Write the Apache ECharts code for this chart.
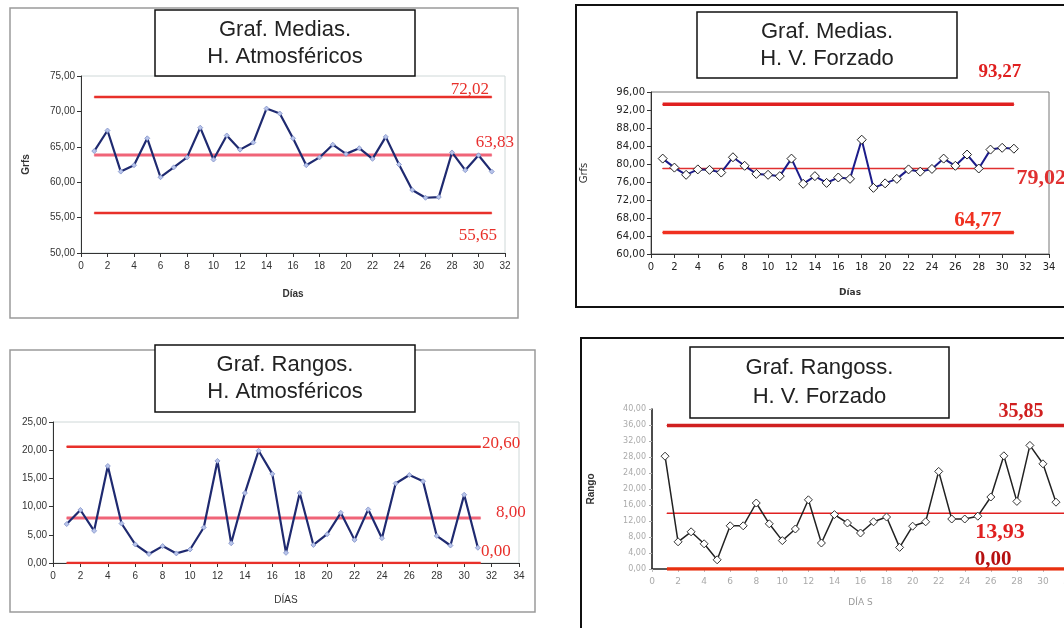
<!DOCTYPE html>
<html>
<head>
<meta charset="utf-8">
<script src="https://cdn.jsdelivr.net/npm/echarts@6/dist/echarts.min.js"></script>
<style>
  html, body { margin: 0; padding: 0; background: #ffffff; }
  #chart { width: 1064px; height: 628px; }
</style>
</head>
<body>
<div id="chart"></div>
<script>
// Days of the month (x values shared by all four control charts)
const dias = [1,2,3,4,5,6,7,8,9,10,11,12,13,14,15,16,17,18,19,20,21,22,23,24,25,26,27,28,29,30,31];

// Daily means and ranges, atmospheric ovens
const mediasAtm = [64.4, 67.3, 61.5, 62.4, 66.2, 60.7, 62.1, 63.5, 67.7, 63.2, 66.6, 64.6, 65.6, 70.4, 69.7, 66.2,
                   62.4, 63.5, 65.3, 64.0, 64.8, 63.3, 66.4, 62.5, 58.9, 57.8, 57.9, 64.2, 61.7, 63.8, 61.5];
const rangosAtm = [6.9, 9.4, 5.7, 17.2, 7.0, 3.3, 1.6, 3.0, 1.7, 2.4, 6.3, 18.1, 3.5, 12.4, 19.9, 15.8,
                   1.8, 12.4, 3.2, 5.1, 8.9, 4.1, 9.5, 4.4, 14.1, 15.6, 14.5, 4.8, 3.1, 12.1, 2.7];

// Daily means and ranges, forced-draft ovens
const mediasVF = [81.2, 79.2, 77.6, 78.8, 78.7, 78.1, 81.5, 79.6, 77.8, 77.6, 77.3, 81.2, 75.6, 77.3, 75.8, 77.0,
                  76.7, 85.4, 74.7, 75.7, 76.7, 78.8, 78.3, 78.9, 81.2, 79.6, 82.1, 79.0, 83.2, 83.6, 83.4];
const rangosVF = [28.2, 6.8, 9.3, 6.3, 2.3, 10.8, 10.8, 16.5, 11.3, 7.1, 10.0, 17.3, 6.5, 13.6, 11.5, 9.0,
                  11.8, 13.0, 5.4, 10.7, 11.8, 24.4, 12.5, 12.5, 13.2, 18.0, 28.3, 16.9, 30.9, 26.3, 16.7];

// Control limits: [upper, center, lower]
const limMediasAtm = [72.02, 63.83, 55.65];
const limRangosAtm = [20.60, 8.00, 0.00];
const limMediasVF = [93.27, 79.02, 64.77];
const limRangosVF = [35.85, 13.93, 0.00];

// Chart titles
const titulos = [
  'Graf. Medias.\nH. Atmosféricos',
  'Graf. Medias.\nH. V. Forzado',
  'Graf. Rangos.\nH. Atmosféricos',
  'Graf. Rangoss.\nH. V. Forzado'
];

const coma = v => v.toFixed(2).replace('.', ',');
const pares = vals => dias.map((d, i) => [d, vals[i]]);

const chart = echarts.init(document.getElementById('chart'), null, { renderer: 'canvas' });

// One horizontal control line with its value printed near the line end
function limite(idx, value, x0, x1, color, width, lab) {
  return {
    type: 'line', xAxisIndex: idx, yAxisIndex: idx, z: 2,
    symbol: 'circle', symbolSize: 1, showSymbol: true, silent: true, animation: false,
    lineStyle: { color: color, width: width },
    itemStyle: { color: color, borderWidth: 0 },
    data: [
      [x0, value],
      {
        value: [x1, value],
        label: {
          show: true, formatter: () => coma(value),
          position: lab.pos, distance: 5, offset: lab.off,
          fontFamily: 'Liberation Serif', fontSize: lab.size,
          fontWeight: lab.bold ? 'bold' : 'normal',
          color: lab.color || color
        }
      }
    ]
  };
}

function ejeX(idx, max, name, opts) {
  return Object.assign({
    type: 'value', gridIndex: idx, min: 0, max: max, interval: 2,
    name: name, nameLocation: 'middle',
    axisLine: { show: true, onZero: false, lineStyle: { color: '#333', width: 1 } },
    axisTick: { show: true, length: 4, lineStyle: { color: '#333' } },
    splitLine: { show: false },
    axisLabel: { fontFamily: 'Liberation Sans', fontSize: 10, color: '#333', margin: 8 }
  }, opts);
}

function ejeY(idx, min, max, interval, name, opts) {
  return Object.assign({
    type: 'value', gridIndex: idx, min: min, max: max, interval: interval,
    name: name, nameLocation: 'middle', nameRotate: 90,
    axisLine: { show: true, lineStyle: { color: '#333', width: 1 } },
    axisTick: { show: true, length: 4, lineStyle: { color: '#333' } },
    splitLine: { show: false },
    axisLabel: { fontFamily: 'Liberation Sans', fontSize: 10, color: '#333', formatter: coma, margin: 6 }
  }, opts);
}

// Frames and title boxes
function marco(x, y, w, h, color, lw) {
  return { type: 'rect', z: -10, silent: true, shape: { x: x, y: y, width: w, height: h },
           style: { fill: '#fff', stroke: color, lineWidth: lw } };
}
function cajaTitulo(x, y, w, h, text, lh, font) {
  return {
    type: 'group', z: 100, silent: true,
    children: [
      { type: 'rect', shape: { x: x, y: y, width: w, height: h },
        style: { fill: '#fff', stroke: '#111', lineWidth: 1.5 } },
      { type: 'text', x: x + w / 2, y: y + h / 2,
        style: { text: text, textAlign: 'center', textVerticalAlign: 'middle',
                 font: font, lineHeight: lh, fill: '#222' } }
    ]
  };
}

const nombreEje = { fontFamily: 'Liberation Sans', fontSize: 10, fontWeight: 'bold', color: '#333' };

const option = {
  backgroundColor: '#ffffff',
  animation: false,
  graphic: [
    marco(10, 8, 508, 310, '#9a9a9a', 1.5),
    marco(10, 350, 525, 262, '#9a9a9a', 1.5),
    marco(576, 5, 520, 302, '#111', 2),
    marco(581, 338, 520, 310, '#111', 2),
    cajaTitulo(155, 10, 260, 66, titulos[0], 27, '22px "Liberation Sans"'),
    cajaTitulo(697, 12, 260, 66, titulos[1], 27, '22px "Liberation Sans"'),
    cajaTitulo(155, 345, 260, 67, titulos[2], 27, '22px "Liberation Sans"'),
    cajaTitulo(690, 347, 259, 71, titulos[3], 29, '22px "Liberation Sans"')
  ],
  grid: [
    { left: 81, right: 559, top: 76, bottom: 375, outerBoundsMode: 'none', show: true, borderColor: '#cfd8d8', borderWidth: 1, backgroundColor: 'transparent' },
    { left: 651, right: 15, top: 92, bottom: 374, outerBoundsMode: 'none', show: true, borderColor: '#777', borderWidth: 1, backgroundColor: 'transparent' },
    { left: 53, right: 545, top: 422, bottom: 65, outerBoundsMode: 'none', show: true, borderColor: '#cfd8d8', borderWidth: 1, backgroundColor: 'transparent' },
    { left: 652, right: -5, top: 409, bottom: 59, outerBoundsMode: 'none', show: false }
  ],
  xAxis: [
    ejeX(0, 32, 'Días', { nameGap: 36, nameTextStyle: nombreEje }),
    ejeX(1, 34, 'Días', { nameGap: 34, nameTextStyle: Object.assign({}, nombreEje, { fontFamily: 'DejaVu Sans', fontSize: 9 }),
      axisLabel: { fontFamily: 'DejaVu Sans', fontSize: 10, color: '#222', margin: 8 } }),
    ejeX(2, 34, 'DÍAS', { nameGap: 32, nameTextStyle: Object.assign({}, nombreEje, { fontWeight: 'normal' }) }),
    ejeX(3, 32, 'DÍA S', { nameGap: 29,
      nameTextStyle: { fontFamily: 'DejaVu Sans', fontSize: 9, color: '#999' },
      axisLine: { show: true, onZero: false, lineStyle: { color: '#222', width: 1.5 } },
      axisTick: { show: true, length: 3, lineStyle: { color: '#bbb' } },
      axisLabel: { fontFamily: 'DejaVu Sans', fontSize: 9, color: '#aaa', margin: 8 } })
  ],
  yAxis: [
    ejeY(0, 50, 75, 5, 'Grfs', { nameGap: 50, nameTextStyle: nombreEje }),
    ejeY(1, 60, 96, 4, 'Grfs', { nameGap: 62, nameTextStyle: Object.assign({}, nombreEje, { fontFamily: 'DejaVu Sans', fontWeight: 'normal' }),
      axisLabel: { fontFamily: 'DejaVu Sans', fontSize: 10, color: '#222', formatter: coma, margin: 6 } }),
    ejeY(2, 0, 25, 5, '', {}),
    ejeY(3, 0, 40, 4, 'Rango', { nameGap: 56, nameTextStyle: nombreEje,
      axisLine: { show: true, lineStyle: { color: '#111', width: 1.5 } },
      axisTick: { show: true, length: 3, lineStyle: { color: '#aaa' } },
      axisLabel: { fontFamily: 'DejaVu Sans', fontSize: 8, color: '#aaa', formatter: coma, margin: 6 } })
  ],
  series: [
    // Atmospheric means
    limite(0, limMediasAtm[0], 1, 31, '#e8302a', 2.5, { pos: 'top', off: [-22, 6], size: 17 }),
    limite(0, limMediasAtm[1], 1, 31, '#f06478', 3, { pos: 'top', off: [3, 1], size: 17, color: '#e83030' }),
    limite(0, limMediasAtm[2], 1, 31, '#e8302a', 2.5, { pos: 'bottom', off: [-14, 9], size: 17 }),
    {
      type: 'line', xAxisIndex: 0, yAxisIndex: 0, z: 5, data: pares(mediasAtm),
      symbol: 'diamond', symbolSize: 5, showSymbol: true,
      lineStyle: { color: '#1f2a70', width: 2.2 },
      itemStyle: { color: '#b8c4ea', borderColor: '#8090c8', borderWidth: 0.8 }
    },
    // Forced-draft means
    limite(1, limMediasVF[0], 1, 31, '#e02020', 3.5, { pos: 'top', off: [-14, -17], size: 19, bold: true }),
    limite(1, limMediasVF[1], 1, 31, '#e03030', 1.5, { pos: 'right', off: [-3, 10], size: 22, bold: true }),
    limite(1, limMediasVF[2], 1, 31, '#f03020', 3.5, { pos: 'top', off: [-36, 4], size: 21, bold: true }),
    {
      type: 'line', xAxisIndex: 1, yAxisIndex: 1, z: 5, data: pares(mediasVF),
      symbol: 'diamond', symbolSize: 9, showSymbol: true,
      lineStyle: { color: '#1c1c8a', width: 2 },
      itemStyle: { color: '#ffffff', borderColor: '#222', borderWidth: 1 }
    },
    // Atmospheric ranges
    limite(2, limRangosAtm[0], 1, 31.2, '#e8302a', 2.5, { pos: 'right', off: [-4, -3], size: 17 }),
    limite(2, limRangosAtm[1], 1, 31.2, '#f06478', 3, { pos: 'right', off: [10, -5], size: 17, color: '#e83030' }),
    limite(2, limRangosAtm[2], 1, 31.2, '#e8302a', 2.5, { pos: 'right', off: [-5, -11], size: 17 }),
    {
      type: 'line', xAxisIndex: 2, yAxisIndex: 2, z: 5, data: pares(rangosAtm),
      symbol: 'diamond', symbolSize: 5, showSymbol: true,
      lineStyle: { color: '#1f2a70', width: 2.2 },
      itemStyle: { color: '#b8c4ea', borderColor: '#8090c8', borderWidth: 0.8 }
    },
    // Forced-draft ranges
    limite(3, limRangosVF[0], 1.15, 32, '#d02020', 3.5, { pos: 'top', off: [-48, 2], size: 20, bold: true }),
    limite(3, limRangosVF[1], 1.15, 32, '#e02020', 1.5, { pos: 'bottom', off: [-69, 3], size: 22, bold: true }),
    limite(3, limRangosVF[2], 1.15, 32, '#e83010', 3.5, { pos: 'top', off: [-76, 7], size: 21, bold: true, color: '#b51010' }),
    {
      type: 'line', xAxisIndex: 3, yAxisIndex: 3, z: 5, data: pares(rangosVF),
      symbol: 'diamond', symbolSize: 8, showSymbol: true,
      lineStyle: { color: '#222', width: 1.5 },
      itemStyle: { color: '#ffffff', borderColor: '#333', borderWidth: 1 }
    }
  ]
};

chart.setOption(option);
</script>
</body>
</html>
